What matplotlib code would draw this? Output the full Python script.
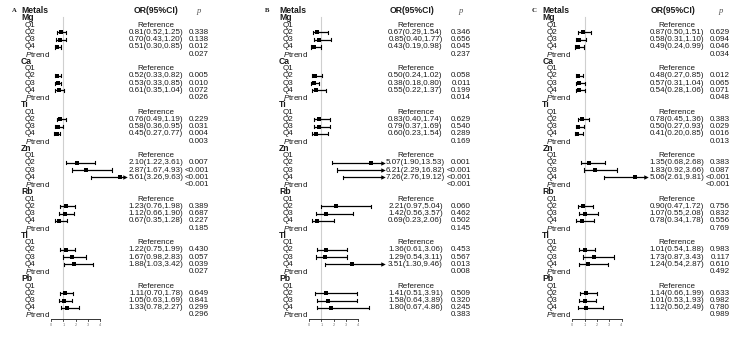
import numpy as np
import matplotlib
matplotlib.use('Agg')
import matplotlib.pyplot as plt

plt.rcParams['font.family'] = 'Liberation Sans'
plt.rcParams['mathtext.fontset'] = 'custom'
plt.rcParams['mathtext.rm'] = 'Liberation Sans'
plt.rcParams['mathtext.it'] = 'Liberation Sans:italic'

metals = ['Mg', 'Ca', 'Ti', 'Zn', 'Rb', 'Tl', 'Pb']
quartiles = ['Q1', 'Q2', 'Q3', 'Q4']
panel_labels = ['A', 'B', 'C']
x_ticks = [0, 1, 2, 3, 4]

# OR (95%CI) and p for Q2, Q3, Q4 of each metal (Q1 = reference)
or_a = [[0.81, 0.70, 0.51], [0.52, 0.53, 0.61], [0.76, 0.58, 0.45], [2.10, 2.87, 5.61],
        [1.23, 1.12, 0.67], [1.22, 1.67, 1.88], [1.11, 1.05, 1.33]]
lo_a = [[0.52, 0.43, 0.30], [0.33, 0.33, 0.35], [0.49, 0.36, 0.27], [1.22, 1.67, 3.26],
        [0.76, 0.66, 0.35], [0.75, 0.98, 1.03], [0.70, 0.63, 0.78]]
hi_a = [[1.25, 1.20, 0.85], [0.82, 0.85, 1.04], [1.19, 0.95, 0.77], [3.61, 4.93, 9.63],
        [1.98, 1.90, 1.28], [1.99, 2.83, 3.42], [1.78, 1.69, 2.27]]
p_a = [['0.338', '0.138', '0.012'], ['0.005', '0.010', '0.072'], ['0.229', '0.031', '0.004'],
       ['0.007', '<0.001', '<0.001'], ['0.389', '0.687', '0.227'], ['0.430', '0.057', '0.039'],
       ['0.649', '0.841', '0.299']]
ptrend_a = ['0.027', '0.026', '0.003', '<0.001', '0.185', '0.027', '0.296']

or_b = [[0.67, 0.85, 0.43], [0.50, 0.38, 0.55], [0.83, 0.79, 0.60], [5.07, 6.21, 7.26],
        [2.21, 1.42, 0.69], [1.36, 1.29, 3.51], [1.41, 1.58, 1.80]]
lo_b = [[0.29, 0.40, 0.19], [0.24, 0.18, 0.22], [0.40, 0.37, 0.23], [1.90, 2.29, 2.76],
        [0.97, 0.56, 0.23], [0.61, 0.54, 1.30], [0.51, 0.64, 0.67]]
hi_b = [[1.54, 1.77, 0.98], [1.02, 0.80, 1.37], [1.74, 1.69, 1.54], [13.53, 16.82, 19.12],
        [5.04, 3.57, 2.06], [3.06, 3.11, 9.46], [3.91, 3.89, 4.86]]
p_b = [['0.346', '0.656', '0.045'], ['0.058', '0.011', '0.199'], ['0.629', '0.540', '0.289'],
       ['0.001', '<0.001', '<0.001'], ['0.060', '0.462', '0.502'], ['0.453', '0.567', '0.013'],
       ['0.509', '0.320', '0.245']]
ptrend_b = ['0.237', '0.014', '0.169', '<0.001', '0.145', '0.008', '0.383']

or_c = [[0.87, 0.58, 0.49], [0.48, 0.57, 0.54], [0.78, 0.50, 0.41], [1.35, 1.83, 5.06],
        [0.90, 1.07, 0.78], [1.01, 1.73, 1.24], [1.14, 1.01, 1.12]]
lo_c = [[0.50, 0.31, 0.24], [0.27, 0.31, 0.28], [0.45, 0.27, 0.20], [0.68, 0.92, 2.61],
        [0.47, 0.55, 0.34], [0.54, 0.87, 0.54], [0.66, 0.53, 0.50]]
hi_c = [[1.51, 1.10, 0.99], [0.85, 1.04, 1.06], [1.36, 0.93, 0.85], [2.68, 3.66, 9.81],
        [1.72, 2.08, 1.78], [1.88, 3.43, 2.87], [1.99, 1.93, 2.49]]
p_c = [['0.629', '0.094', '0.046'], ['0.012', '0.065', '0.071'], ['0.383', '0.029', '0.016'],
       ['0.383', '0.087', '<0.001'], ['0.756', '0.832', '0.556'], ['0.983', '0.117', '0.610'],
       ['0.633', '0.982', '0.780']]
ptrend_c = ['0.034', '0.048', '0.013', '<0.001', '0.769', '0.492', '0.989']

panels = [(or_a, lo_a, hi_a, p_a, ptrend_a),
          (or_b, lo_b, hi_b, p_b, ptrend_b),
          (or_c, lo_c, hi_c, p_c, ptrend_c)]

# layout (pixels)
W, H = 734, 338
panel_left = [0, 245, 490]
panel_width = [245, 245, 244]
zero_px = [51, 309, 572.3]
scale = 12.3          # px per OR unit
clip = 6.0            # CI lines cut off here with an arrow
row0_y, row_h = 10.7, 7.245
axis_row = 42.55

letter_off = [-39, -44, -40.6]
hdr_off = [104.7, 102.7, 101.0]
orcol_off = [105.0, 106.5, 104.7]
pcol_off = [158.0, 162.0, 157.7]
phdr_off = [145.5, 150.0, 146.5]
name_off = -30.0
q_off = -26.0

txt = '#1a1a1a'
fs = 5.8
fsb = 6.2

fig = plt.figure(figsize=(W / 100, H / 100), dpi=100)

for k, (ors, los, his, ps, pts) in enumerate(panels):
    L, w, z = panel_left[k], panel_width[k], zero_px[k]
    ax = fig.add_axes([L / W, 0, w / W, 1])
    ax.set_xlim((L - z) / scale, (L + w - z) / scale)
    ax.set_ylim((H - row0_y) / row_h, -row0_y / row_h)
    ax.axis('off')

    def px(off):
        return off / scale

    # header
    ax.text(px(letter_off[k]), 0, panel_labels[k], family='Liberation Serif',
            fontweight='bold', fontsize=4.8, color=txt, ha='left', va='center')
    ax.text(px(name_off), 0, 'Metals', fontweight='bold', fontsize=fsb, color=txt,
            ha='left', va='center')
    ax.text(px(hdr_off[k]), 0, 'OR(95%CI)', fontweight='bold', fontsize=fsb, color=txt,
            ha='center', va='center')
    ax.text(px(phdr_off[k]), 0, 'p', family='Liberation Serif', style='italic',
            fontsize=6.2, color='#555555', ha='left', va='center')

    # reference line at OR = 1
    ax.plot([1, 1], [0.85, axis_row], color='#cfcfcf', lw=0.8, zorder=0)

    for m, metal in enumerate(metals):
        base = 1 + 6 * m
        ax.text(px(name_off), base, metal, fontweight='bold', fontsize=fsb, color=txt,
                ha='left', va='center')
        for q, ql in enumerate(quartiles):
            ax.text(px(q_off), base + 1 + q, ql, fontsize=fs, color=txt,
                    ha='left', va='center')
        ax.text(px(orcol_off[k]), base + 1, 'Reference', fontsize=fs, color=txt,
                ha='center', va='center')
        for j in range(3):
            r = base + 2 + j
            o, lo, hi = ors[m][j], los[m][j], his[m][j]
            hi_c = min(hi, clip)
            ax.plot([lo, hi_c], [r, r], color='black', lw=0.9, solid_capstyle='butt')
            ax.plot([lo, lo], [r - 0.22, r + 0.22], color='black', lw=0.8)
            if hi > clip:
                ax.plot(clip, r, marker='>', ms=3.2, color='black', mew=0)
            else:
                ax.plot([hi, hi], [r - 0.22, r + 0.22], color='black', lw=0.8)
            if o <= clip:
                ax.plot(o, r, marker='s', ms=2.6, color='black', mew=0)
            ax.text(px(orcol_off[k]), r, f'{o:.2f}({lo:.2f},{hi:.2f})', fontsize=fs,
                    color=txt, ha='center', va='center')
            ax.text(px(pcol_off[k]), r, ps[m][j], fontsize=fs, color=txt,
                    ha='right', va='center')
        ax.text(px(q_off), base + 5, r'$\mathit{P}$trend', fontsize=fs, color=txt,
                ha='left', va='center')
        ax.text(px(pcol_off[k]), base + 5, pts[m], fontsize=fs, color=txt,
                ha='right', va='center')

    # x axis
    ax.plot([x_ticks[0], x_ticks[-1]], [axis_row, axis_row], color='#333333', lw=0.7)
    for t in x_ticks:
        ax.plot([t, t], [axis_row, axis_row + 0.3], color='#333333', lw=0.6)
        ax.text(t, axis_row + 0.9, str(t), fontsize=2.8, color='#777777',
                ha='center', va='center')

fig.savefig('out.png', dpi=100)
